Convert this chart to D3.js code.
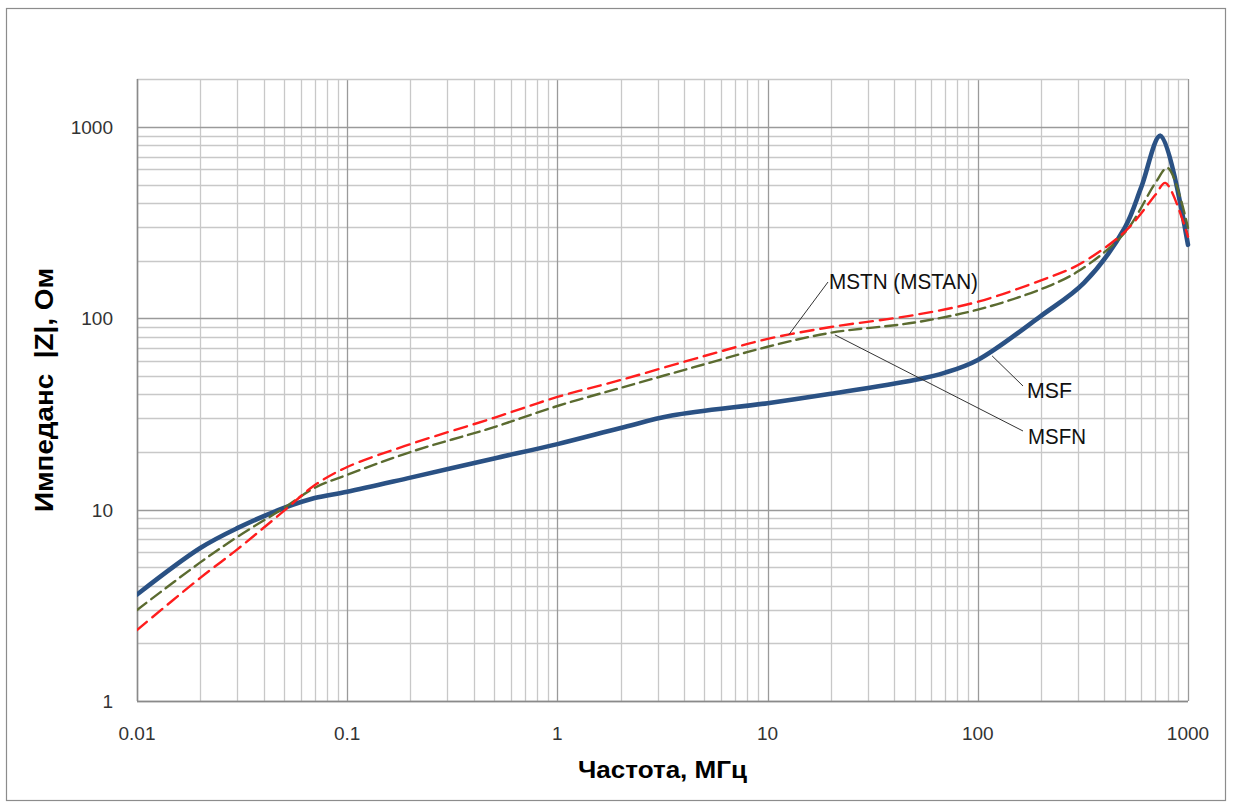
<!DOCTYPE html>
<html>
<head>
<meta charset="utf-8">
<script src="https://cdn.jsdelivr.net/npm/d3@7"></script>
<style>
  body { margin: 0; background: #fff; }
  text { font-family: "Liberation Sans Narrow", "Liberation Sans", Arial, sans-serif; }
</style>
</head>
<body>
<div id="chart"></div>
<script>
// Data (frequency in MHz, |Z| in Ohm)
const msfFreq = [0.01, 0.02, 0.03, 0.05, 0.07, 0.1, 0.2, 0.5, 1, 2, 3.5, 10, 20, 50, 70, 100, 200, 320, 500, 600, 740, 1000];
const msfZ    = [3.6, 6.3, 8.0, 10.2, 11.5, 12.4, 14.7, 18.5, 22, 26.7, 31, 36, 40.3, 47.6, 52, 60.6, 103, 153, 297, 486, 900, 242];

const mstnFreq = [0.01, 0.02, 0.03, 0.05, 0.07, 0.1, 0.2, 0.5, 1, 2, 5, 10, 20, 50, 100, 200, 300, 500, 700, 780, 1000];
const mstnZ    = [2.35, 4.4, 6.2, 9.85, 13.4, 16.7, 22, 30.2, 38.8, 47.6, 63.5, 78, 90, 104, 122, 158, 190, 283, 442, 510, 267];

const msfnFreq = [0.01, 0.02, 0.03, 0.05, 0.07, 0.1, 0.2, 0.5, 1, 2, 5, 10, 20, 50, 100, 200, 300, 500, 700, 800, 1000];
const msfnZ    = [2.99, 5.3, 7.2, 10.2, 13.0, 15.2, 20, 27, 34.8, 43.3, 57.5, 71, 84, 95, 111, 142, 176, 280, 510, 611, 297];

const xTicks = [0.01, 0.1, 1, 10, 100, 1000];
const xTickLabels = ["0.01", "0.1", "1", "10", "100", "1000"];
const yTicks = [1, 10, 100, 1000];
const yTickLabels = ["1", "10", "100", "1000"];

// Callouts: label, anchor point on the curve (freq, Z)
const callouts = [
    { label: "MSTN (MSTAN)", f: 12.6, z: 81.9, tx: 829, ty: 281, lx: 828, ly: 282, len: 149 },
    { label: "MSF", f: 117, z: 63.6, tx: 1027, ty: 390, lx: 1023, ly: 386, len: 45 },
    { label: "MSFN", f: 20.9, z: 81.9, tx: 1028, ty: 436, lx: 1023, ly: 431, len: 58 }
];

const width = 1234;
const height = 803;
const plot = { left: 137, right: 1188, top: 79, bottom: 701 };

const svg = d3.select("#chart").append("svg")
    .attr("width", width)
    .attr("height", height);

// outer frame
svg.append("rect")
    .attr("x", 6.5).attr("y", 8.5)
    .attr("width", 1219).attr("height", 792)
    .attr("fill", "#fff")
    .attr("stroke", "#8c8c8c")
    .attr("stroke-width", 1.2);

const x = d3.scaleLog().domain([0.01, 1000]).range([plot.left, plot.right]);
const y = d3.scaleLog().domain([1, 1780]).range([plot.bottom, plot.top]);

// gridlines
const xMinor = [];
xTicks.slice(0, -1).forEach(d => { for (let k = 2; k <= 9; k++) xMinor.push(d * k); });
const yMinor = [];
yTicks.slice(0, -1).forEach(d => { for (let k = 2; k <= 9; k++) yMinor.push(d * k); });

const grid = svg.append("g");
grid.selectAll(".xminor").data(xMinor).enter().append("line")
    .attr("x1", d => Math.round(x(d)) + 0.5).attr("x2", d => Math.round(x(d)) + 0.5)
    .attr("y1", plot.top).attr("y2", plot.bottom)
    .attr("stroke", "#c8c8c8").attr("stroke-width", 1.3);
grid.selectAll(".yminor").data(yMinor).enter().append("line")
    .attr("y1", d => Math.round(y(d)) + 0.5).attr("y2", d => Math.round(y(d)) + 0.5)
    .attr("x1", plot.left).attr("x2", plot.right)
    .attr("stroke", "#c8c8c8").attr("stroke-width", 1.3);
grid.selectAll(".xmajor").data(xTicks).enter().append("line")
    .attr("x1", d => Math.round(x(d)) + 0.5).attr("x2", d => Math.round(x(d)) + 0.5)
    .attr("y1", plot.top).attr("y2", plot.bottom)
    .attr("stroke", "#9a9a9a").attr("stroke-width", 1.3);
grid.selectAll(".ymajor").data(yTicks).enter().append("line")
    .attr("y1", d => Math.round(y(d)) + 0.5).attr("y2", d => Math.round(y(d)) + 0.5)
    .attr("x1", plot.left).attr("x2", plot.right)
    .attr("stroke", "#9a9a9a").attr("stroke-width", 1.3);
// top edge of plot
grid.append("line")
    .attr("x1", plot.left).attr("x2", plot.right)
    .attr("y1", plot.top + 0.5).attr("y2", plot.top + 0.5)
    .attr("stroke", "#c8c8c8").attr("stroke-width", 1.3);

// axes lines
svg.append("line")
    .attr("x1", plot.left + 0.5).attr("x2", plot.left + 0.5)
    .attr("y1", plot.top).attr("y2", plot.bottom)
    .attr("stroke", "#8a8a8a").attr("stroke-width", 1.5);
svg.append("line")
    .attr("x1", plot.left).attr("x2", plot.right)
    .attr("y1", plot.bottom + 0.5).attr("y2", plot.bottom + 0.5)
    .attr("stroke", "#8a8a8a").attr("stroke-width", 1.5);

// tick labels
svg.selectAll(".xlab").data(xTicks).enter().append("text")
    .attr("x", d => x(d)).attr("y", 740)
    .attr("text-anchor", "middle")
    .style("font-family", "'Liberation Sans', Arial, sans-serif")
    .attr("font-size", 19).attr("fill", "#333")
    .text((d, i) => xTickLabels[i]);
svg.selectAll(".ylab").data(yTicks).enter().append("text")
    .attr("x", 113).attr("y", d => y(d) + 7)
    .attr("text-anchor", "end")
    .style("font-family", "'Liberation Sans', Arial, sans-serif")
    .attr("font-size", 19).attr("fill", "#333")
    .text((d, i) => yTickLabels[i]);

// axis titles
svg.append("text")
    .attr("x", 578).attr("y", 778)
    .attr("font-size", 23).attr("font-weight", "bold")
    .attr("textLength", 169).attr("lengthAdjust", "spacingAndGlyphs")
    .text("Частота, МГц");
svg.append("text")
    .attr("transform", "translate(53,512) rotate(-90)")
    .attr("font-size", 25).attr("font-weight", "bold")
    .attr("textLength", 244).attr("lengthAdjust", "spacingAndGlyphs")
    .style("white-space", "pre")
    .text("Импеданс  |Z|, Ом");

// curves
const line = d3.line()
    .x(d => x(d[0]))
    .y(d => y(d[1]))
    .curve(d3.curveCatmullRom.alpha(0.5));

svg.append("clipPath").attr("id", "clip").append("rect")
    .attr("x", plot.left).attr("y", plot.top)
    .attr("width", plot.right - plot.left + 3).attr("height", plot.bottom - plot.top);

const series = [
    { f: msfFreq, z: msfZ, color: "#2a5184", w: 4.6, dash: null },
    { f: msfnFreq, z: msfnZ, color: "#5b6b30", w: 2.4, dash: "12,6" },
    { f: mstnFreq, z: mstnZ, color: "#ff1d1d", w: 2.4, dash: "13,7" }
];

svg.append("g").attr("clip-path", "url(#clip)")
    .selectAll("path").data(series).enter().append("path")
    .attr("d", s => line(s.f.map((f, i) => [f, s.z[i]])))
    .attr("fill", "none")
    .attr("stroke", s => s.color)
    .attr("stroke-width", s => s.w)
    .attr("stroke-linejoin", "round")
    .attr("stroke-linecap", "round")
    .attr("stroke-dasharray", s => s.dash);

// callouts
const co = svg.append("g");
co.selectAll("line").data(callouts).enter().append("line")
    .attr("x1", d => d.lx).attr("y1", d => d.ly)
    .attr("x2", d => x(d.f)).attr("y2", d => y(d.z))
    .attr("stroke", "#333").attr("stroke-width", 1);
co.selectAll("text").data(callouts).enter().append("text")
    .attr("x", d => d.tx).attr("y", d => d.ty + 8)
    .attr("font-size", 22).attr("fill", "#111")
    .attr("textLength", d => d.len).attr("lengthAdjust", "spacingAndGlyphs")
    .text(d => d.label);
</script>
</body>
</html>
